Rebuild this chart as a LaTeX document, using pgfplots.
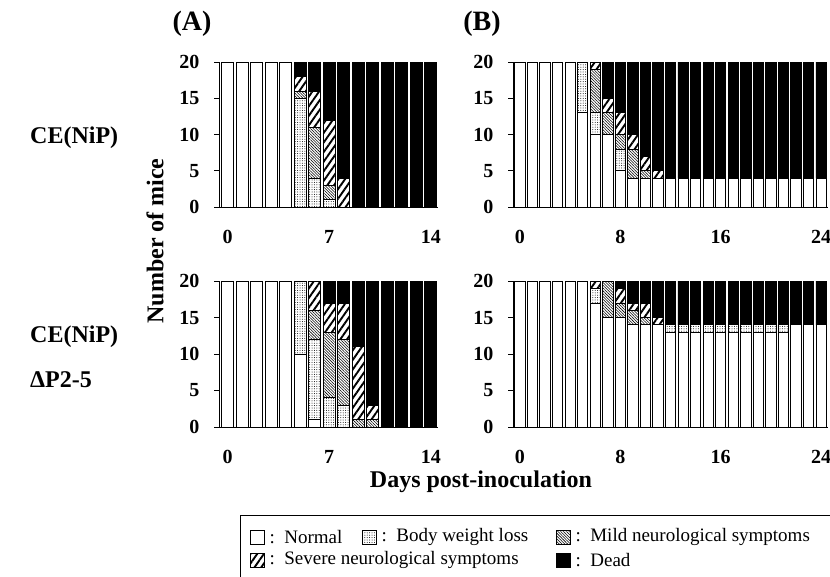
\documentclass[border=0pt]{standalone}
\usepackage{fontspec}
\setmainfont{Liberation Serif}
\usepackage{pgfplots}
\pgfplotsset{compat=1.18}
\usepackage{pgfplotstable}
\usetikzlibrary{patterns.meta}

\pgfplotstableread{
x n b m s d
0 20 0 0 0 0
1 20 0 0 0 0
2 20 0 0 0 0
3 20 0 0 0 0
4 20 0 0 0 0
5 0 15 1 2 2
6 0 4 7 5 4
7 0 1 2 9 8
8 0 0 0 4 16
9 0 0 0 0 20
10 0 0 0 0 20
11 0 0 0 0 20
12 0 0 0 0 20
13 0 0 0 0 20
14 0 0 0 0 20
}\Atop
\pgfplotstableread{
x n b m s d
0 20 0 0 0 0
1 20 0 0 0 0
2 20 0 0 0 0
3 20 0 0 0 0
4 20 0 0 0 0
5 10 10 0 0 0
6 1 11 4 4 0
7 0 4 9 4 3
8 0 3 9 5 3
9 0 0 1 10 9
10 0 0 1 2 17
11 0 0 0 0 20
12 0 0 0 0 20
13 0 0 0 0 20
14 0 0 0 0 20
}\Abot
\pgfplotstableread{
x n b m s d
0 20 0 0 0 0
1 20 0 0 0 0
2 20 0 0 0 0
3 20 0 0 0 0
4 20 0 0 0 0
5 13 7 0 0 0
6 10 3 6 1 0
7 10 0 3 2 5
8 5 3 2 3 7
9 4 0 4 2 10
10 4 0 1 2 13
11 4 0 0 1 15
12 4 0 0 0 16
13 4 0 0 0 16
14 4 0 0 0 16
15 4 0 0 0 16
16 4 0 0 0 16
17 4 0 0 0 16
18 4 0 0 0 16
19 4 0 0 0 16
20 4 0 0 0 16
21 4 0 0 0 16
22 4 0 0 0 16
23 4 0 0 0 16
24 4 0 0 0 16
}\Btop
\pgfplotstableread{
x n b m s d
0 20 0 0 0 0
1 20 0 0 0 0
2 20 0 0 0 0
3 20 0 0 0 0
4 20 0 0 0 0
5 20 0 0 0 0
6 17 2 0 1 0
7 15 0 5 0 0
8 15 0 2 2 1
9 14 0 2 1 3
10 14 0 1 2 3
11 14 0 0 1 5
12 13 1 0 0 6
13 13 1 0 0 6
14 13 1 0 0 6
15 13 1 0 0 6
16 13 1 0 0 6
17 13 1 0 0 6
18 13 1 0 0 6
19 13 1 0 0 6
20 13 1 0 0 6
21 13 1 0 0 6
22 14 0 0 0 6
23 14 0 0 0 6
24 14 0 0 0 6
}\Bbot

\tikzset{
 pN/.style={fill=white},
 pB/.style={pattern={Dots[distance=2.4pt,radius=0.5pt]}},
 pM/.style={pattern={Lines[angle=-45,distance=2pt,line width=0.55pt]}},
 pS/.style={pattern={Lines[angle=55,distance=5.5pt,line width=1.9pt]}},
 pD/.style={fill=black},
 bx/.style={draw=black,line width=0.8pt},
}
\newcommand\stack[1]{%
 \addplot[bx,pN] table[x=x,y=n]{#1};
 \addplot[bx,pB] table[x=x,y=b]{#1};
 \addplot[bx,pM] table[x=x,y=m]{#1};
 \addplot[bx,pS] table[x=x,y=s]{#1};
 \addplot[bx,pD] table[x=x,y=d]{#1};
}
\pgfplotsset{panel/.style={
  scale only axis, ybar stacked, bar width=0.82,
  ymin=0, ymax=20, ytick={0,5,10,15,20},
  axis x line*=bottom, axis y line*=left,
  axis line style={line width=1pt,-},
  tick align=outside, major tick length=5pt,
  ytick style={line width=1pt,black},
  xtick style={draw=none},
  /pgf/number format/assume math mode=true,
  tick label style={font=\fontsize{20}{24}\selectfont\bfseries},
  xticklabel style={yshift=-15pt},
  yticklabel style={xshift=-11pt},
  anchor=south west,
  clip=false,
}}
\newcommand\bigb{\fontsize{24}{28}\selectfont\bfseries}
\newcommand\legf{\fontsize{19}{22}\selectfont}

\begin{document}
\begin{tikzpicture}
\useasboundingbox (0,0) rectangle (830pt,-576pt);
% Panel A top
\begin{axis}[panel, at={(219pt,-207pt)}, width=219pt, height=145pt,
  xmin=-0.6, xmax=14.5, xtick={0,7,14}]
\stack{\Atop}
\end{axis}
% Panel A bottom
\begin{axis}[panel, at={(219pt,-427pt)}, width=219pt, height=146pt,
  xmin=-0.6, xmax=14.5, xtick={0,7,14}]
\stack{\Abot}
\end{axis}
% Panel B top
\begin{axis}[panel, at={(513pt,-207pt)}, width=315pt, height=145pt,
  xmin=-0.55, xmax=24.55, xtick={0,8,16,24}]
\stack{\Btop}
\end{axis}
% Panel B bottom
\begin{axis}[panel, at={(513pt,-427pt)}, width=315pt, height=146pt,
  xmin=-0.55, xmax=24.55, xtick={0,8,16,24}]
\stack{\Bbot}
\end{axis}

\node[font=\fontsize{28}{32}\selectfont\bfseries] at (192pt,-24pt) {(A)};
\node[font=\fontsize{28}{32}\selectfont\bfseries] at (482pt,-24pt) {(B)};
\node[font=\bigb, anchor=west, inner sep=0pt] at (30pt,-138pt) {CE(NiP)};
\node[font=\bigb, anchor=west, inner sep=0pt] at (30pt,-337pt) {CE(NiP)};
\node[font=\bigb, anchor=west, inner sep=0pt] at (30pt,-380pt) {ΔP2-5};
\node[font=\bigb, rotate=90] at (155pt,-241pt) {Number of mice};
\node[font=\bigb] at (481pt,-482pt) {Days post-inoculation};

% legend
\draw[line width=0.8pt] (240pt,-580pt) -- (240pt,-515pt) -- (834pt,-515pt);
\begin{scope}[line width=0.8pt]
\draw[pN] (250pt,-530pt) rectangle ++(14pt,-14pt);
\node[font=\legf, anchor=west, inner sep=0pt] at (266pt,-537pt) {\,:\, Normal};
\draw[pB] (362pt,-530pt) rectangle ++(14pt,-14pt);
\node[font=\legf, anchor=west, inner sep=0pt] at (378pt,-537pt) {\,:\, Body weight loss};
\draw[pM] (556pt,-530pt) rectangle ++(14pt,-14pt);
\node[font=\legf, anchor=west, inner sep=0pt] at (572pt,-537pt) {\,:\, Mild neurological symptoms};
\draw[pS] (250pt,-553pt) rectangle ++(14pt,-14pt);
\node[font=\legf, anchor=west, inner sep=0pt] at (266pt,-560pt) {\,:\, Severe neurological symptoms};
\draw[pD] (556pt,-553pt) rectangle ++(14pt,-14pt);
\node[font=\legf, anchor=west, inner sep=0pt] at (572pt,-560pt) {\,:\, Dead};
\end{scope}
\end{tikzpicture}
\end{document}
